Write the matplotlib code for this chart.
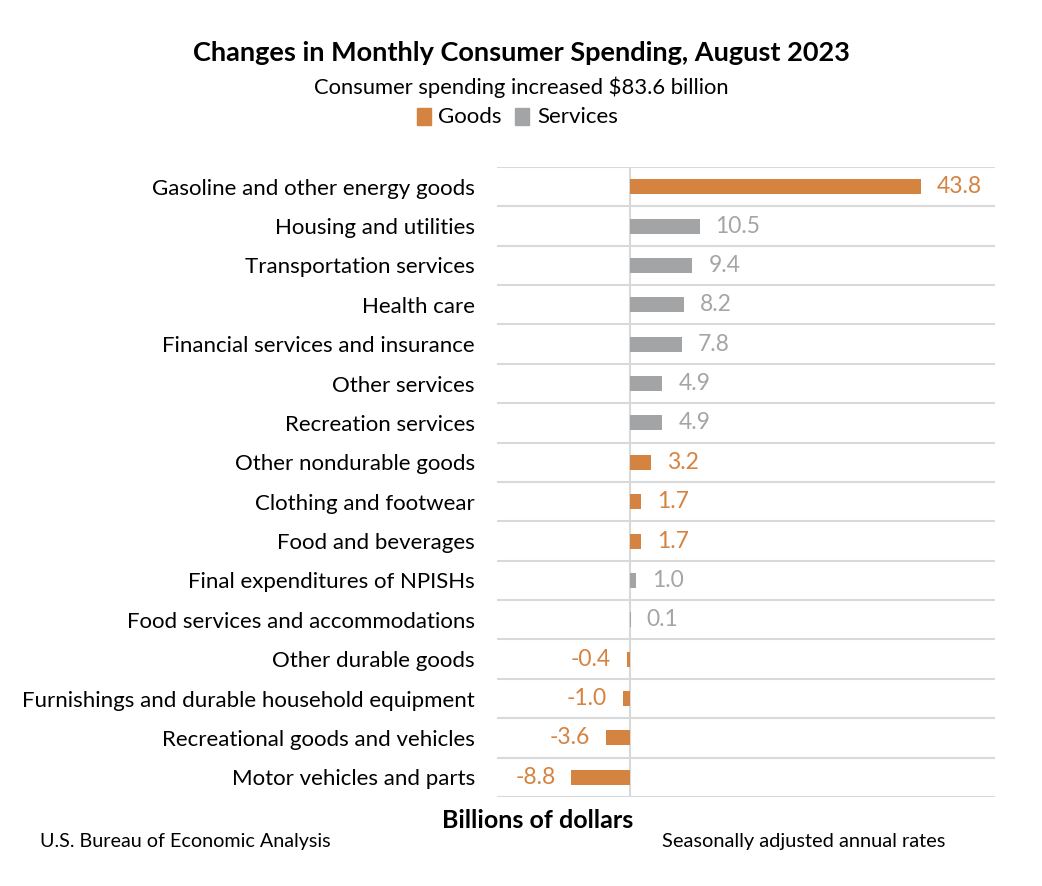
import matplotlib.pyplot as plt

plt.rcParams['font.family'] = ['Lato', 'DejaVu Sans']

categories = [
    "Gasoline and other energy goods",
    "Housing and utilities",
    "Transportation services",
    "Health care",
    "Financial services and insurance",
    "Other services",
    "Recreation services",
    "Other nondurable goods",
    "Clothing and footwear",
    "Food and beverages",
    "Final expenditures of NPISHs",
    "Food services and accommodations",
    "Other durable goods",
    "Furnishings and durable household equipment",
    "Recreational goods and vehicles",
    "Motor vehicles and parts",
]
values = [43.8, 10.5, 9.4, 8.2, 7.8, 4.9, 4.9, 3.2, 1.7, 1.7, 1.0, 0.1, -0.4, -1.0, -3.6, -8.8]
kind = ["G", "S", "S", "S", "S", "S", "S", "G", "G", "G", "S", "S", "G", "G", "G", "G"]

bar_colors = {"G": "#D58340", "S": "#A2A4A5"}
text_colors = {"G": "#D58340", "S": "#A5A5A5"}

fig = plt.figure(figsize=(10.42, 8.86), dpi=100)
ax = fig.add_axes([0.477, 0.1005, 0.478, 0.711])

ypos = list(range(len(categories)))
ax.barh(ypos, values, height=0.38, color=[bar_colors[k] for k in kind], zorder=3)

for y, v, k in zip(ypos, values, kind):
    ax.annotate(f"{v:.1f}", (v, y), xytext=(11.5 if v >= 0 else -11.5, 0),
                textcoords="offset points", va="center",
                ha="left" if v >= 0 else "right",
                fontsize=16.5, color=text_colors[k])

ax.set_xlim(-20, 55)
ax.set_ylim(len(categories) - 0.5, -0.5)
ax.set_yticks(ypos)
ax.set_yticklabels(categories, fontsize=16)
ax.set_xticks([])
ax.tick_params(axis="y", length=0, pad=16)

for i in range(len(categories) + 1):
    ax.axhline(i - 0.5, color="#D9D9D9", lw=1.5, zorder=1)
ax.axvline(0, color="#D9D9D9", lw=1.5, zorder=2)
for s in ax.spines.values():
    s.set_visible(False)

fig.text(0.5, 0.940, "Changes in Monthly Consumer Spending, August 2023",
         ha="center", va="center", fontsize=19.5, fontweight="bold")
fig.text(0.5, 0.902, "Consumer spending increased $83.6 billion",
         ha="center", va="center", fontsize=15.8)

# legend
fig.patches.append(plt.Rectangle((0.400, 0.859), 0.0135, 0.019, color=bar_colors["G"],
                                 transform=fig.transFigure, figure=fig))
fig.text(0.420, 0.868, "Goods", ha="left", va="center", fontsize=16)
fig.patches.append(plt.Rectangle((0.494, 0.859), 0.0135, 0.019, color=bar_colors["S"],
                                 transform=fig.transFigure, figure=fig))
fig.text(0.516, 0.868, "Services", ha="left", va="center", fontsize=16)

fig.text(0.516, 0.074, "Billions of dollars", ha="center", va="center",
         fontsize=18, fontweight="bold")
fig.text(0.038, 0.050, "U.S. Bureau of Economic Analysis", ha="left", va="center", fontsize=14.2)
fig.text(0.635, 0.050, "Seasonally adjusted annual rates", ha="left", va="center", fontsize=14.4)

fig.savefig("out.png", dpi=100, facecolor="white")
